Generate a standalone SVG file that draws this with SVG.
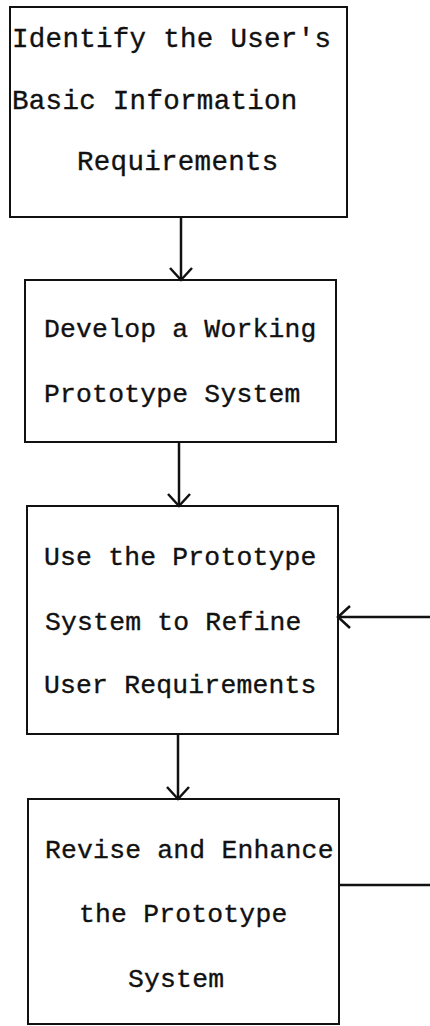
<svg xmlns="http://www.w3.org/2000/svg" width="430" height="1026" viewBox="0 0 430 1026">
  <style>
    .box { fill: none; stroke: #111; stroke-width: 2; }
    .label { font-family: "Liberation Mono", "DejaVu Sans Mono", monospace; font-size: 26.4px; letter-spacing: 0.2px; fill: #111; stroke: #111; stroke-width: 0.35; }
    .label.wide { font-size: 27.5px; letter-spacing: 0.3px; }
    .wire { fill: none; stroke: #111; stroke-width: 2.5; }
  </style>
  <defs>
    <marker id="chevron" markerUnits="userSpaceOnUse" markerWidth="30" markerHeight="30" refX="0" refY="0" viewBox="-15 -15 30 30" orient="auto" overflow="visible">
      <path d="M -12 -11 L 0 0 L -12 11" fill="none" stroke="#111" stroke-width="2.5" stroke-linejoin="miter"/>
    </marker>
  </defs>
  <rect width="430" height="1026" fill="#fff"/>

  <g id="identify-requirements">
    <rect class="box" x="10" y="7" width="337" height="210"/>
    <text class="label wide" x="12" y="47">Identify the User's</text>
    <text class="label wide" x="12" y="109">Basic Information</text>
    <text class="label wide" x="77" y="170">Requirements</text>
  </g>

  <g id="develop-prototype">
    <rect class="box" x="25" y="280" width="311" height="162"/>
    <text class="label" x="44" y="337">Develop a Working</text>
    <text class="label" x="44" y="402">Prototype System</text>
  </g>

  <g id="refine-requirements">
    <rect class="box" x="27" y="506" width="311" height="228"/>
    <text class="label" x="44" y="565">Use the Prototype</text>
    <text class="label" x="45" y="630">System to Refine</text>
    <text class="label" x="44" y="693">User Requirements</text>
  </g>

  <g id="revise-prototype">
    <rect class="box" x="28" y="799" width="311" height="225"/>
    <text class="label" x="45" y="858">Revise and Enhance</text>
    <text class="label" x="79" y="922">the Prototype</text>
    <text class="label" x="128" y="987">System</text>
  </g>

  <g id="connectors">
    <line class="wire" x1="181" y1="217" x2="181" y2="280" marker-end="url(#chevron)"/>
    <line class="wire" x1="179" y1="442" x2="179" y2="506" marker-end="url(#chevron)"/>
    <line class="wire" x1="178" y1="734" x2="178" y2="799" marker-end="url(#chevron)"/>
    <!-- loop back: out of the revise step, in to the refine step -->
    <line class="wire" x1="339" y1="885" x2="430" y2="885"/>
    <line class="wire" x1="430" y1="617" x2="338" y2="617" marker-end="url(#chevron)"/>
  </g>
</svg>
